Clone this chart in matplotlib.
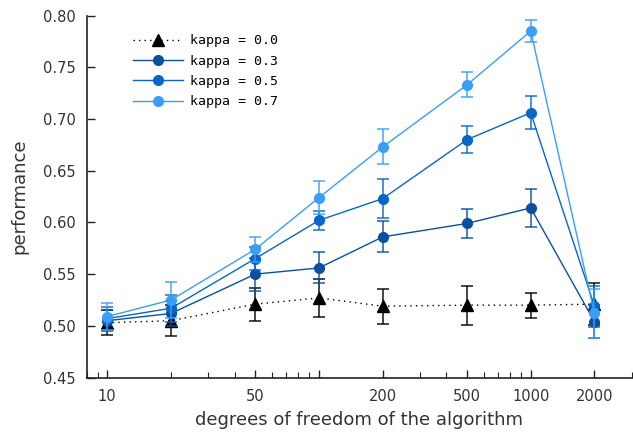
import matplotlib
matplotlib.use("Agg")
import matplotlib.pyplot as plt
from matplotlib.ticker import FixedLocator, FixedFormatter, NullFormatter

dof = [10, 20, 50, 100, 200, 500, 1000, 2000]

perf_k00 = [0.503, 0.505, 0.521, 0.527, 0.519, 0.520, 0.520, 0.521]
err_k00 = [0.012, 0.015, 0.016, 0.018, 0.017, 0.019, 0.012, 0.020]

perf_k03 = [0.505, 0.512, 0.550, 0.556, 0.586, 0.599, 0.614, 0.504]
err_k03 = [0.010, 0.012, 0.016, 0.015, 0.015, 0.014, 0.018, 0.016]

perf_k05 = [0.507, 0.517, 0.565, 0.602, 0.623, 0.680, 0.706, 0.519]
err_k05 = [0.011, 0.013, 0.011, 0.009, 0.019, 0.013, 0.016, 0.020]

perf_k07 = [0.509, 0.525, 0.574, 0.624, 0.673, 0.733, 0.785, 0.512]
err_k07 = [0.013, 0.017, 0.012, 0.016, 0.017, 0.012, 0.011, 0.024]

xtick_vals = [10, 50, 100, 200, 500, 1000, 2000]
xtick_labels = ["10", "50", "", "200", "500", "1000", "2000"]

series = [
    ("kappa = 0.0", perf_k00, err_k00, "black", "^", (0, (1, 3))),
    ("kappa = 0.3", perf_k03, err_k03, "#0b4f9e", "o", "-"),
    ("kappa = 0.5", perf_k05, err_k05, "#0a66c6", "o", "-"),
    ("kappa = 0.7", perf_k07, err_k07, "#3a9ef5", "o", "-"),
]

fig = plt.figure(figsize=(6.33, 4.32), dpi=100)
ax = fig.add_axes([0.137, 0.126, 0.861, 0.838])

handles = []
for label, vals, errs, color, marker, ls in series:
    ax.errorbar(dof, vals, yerr=errs, fmt="none", ecolor=color,
                elinewidth=1.2, capsize=4, capthick=1.2, alpha=0.85)
    h, = ax.plot(dof, vals, color=color, linestyle=ls, linewidth=1.0,
                 marker=marker, markersize=7 if marker == "o" else 8,
                 label=label)
    handles.append(h)

ax.set_xscale("log")
ax.set_xlim(8, 3000)
ax.set_ylim(0.45, 0.80)
ax.set_yticks([0.45, 0.50, 0.55, 0.60, 0.65, 0.70, 0.75, 0.80])
ax.set_yticklabels(["0.45", "0.50", "0.55", "0.60", "0.65", "0.70", "0.75", "0.80"])

ax.xaxis.set_major_locator(FixedLocator(xtick_vals))
ax.xaxis.set_major_formatter(FixedFormatter(xtick_labels))
minor = [m * d for d in (1, 10, 100, 1000) for m in range(2, 10)]
minor = [v for v in minor if v not in xtick_vals and 8 <= v <= 3000]
ax.xaxis.set_minor_locator(FixedLocator(minor))
ax.xaxis.set_minor_formatter(NullFormatter())

for s in ["top", "right"]:
    ax.spines[s].set_visible(False)
for s in ["left", "bottom"]:
    ax.spines[s].set_color("#222222")
    ax.spines[s].set_linewidth(1.2)

ax.tick_params(axis="both", which="major", direction="in", length=6,
               width=1, colors="#222222", labelcolor="#333333",
               labelsize=10.5, pad=8)
ax.tick_params(axis="x", which="minor", direction="in", length=4,
               width=0.8, colors="#222222")

ax.set_xlabel("degrees of freedom of the algorithm", fontsize=13,
              color="#333333", labelpad=5)
ax.set_ylabel("performance", fontsize=13, color="#333333", labelpad=10)

ax.legend(handles=handles, loc="upper left", bbox_to_anchor=(0.085, 0.948),
          frameon=False, borderpad=0, borderaxespad=0,
          handlelength=3.8, handletextpad=0.5, labelspacing=0.55,
          prop={"family": "DejaVu Sans Mono", "size": 9.5})

fig.savefig("out.png", dpi=100)
